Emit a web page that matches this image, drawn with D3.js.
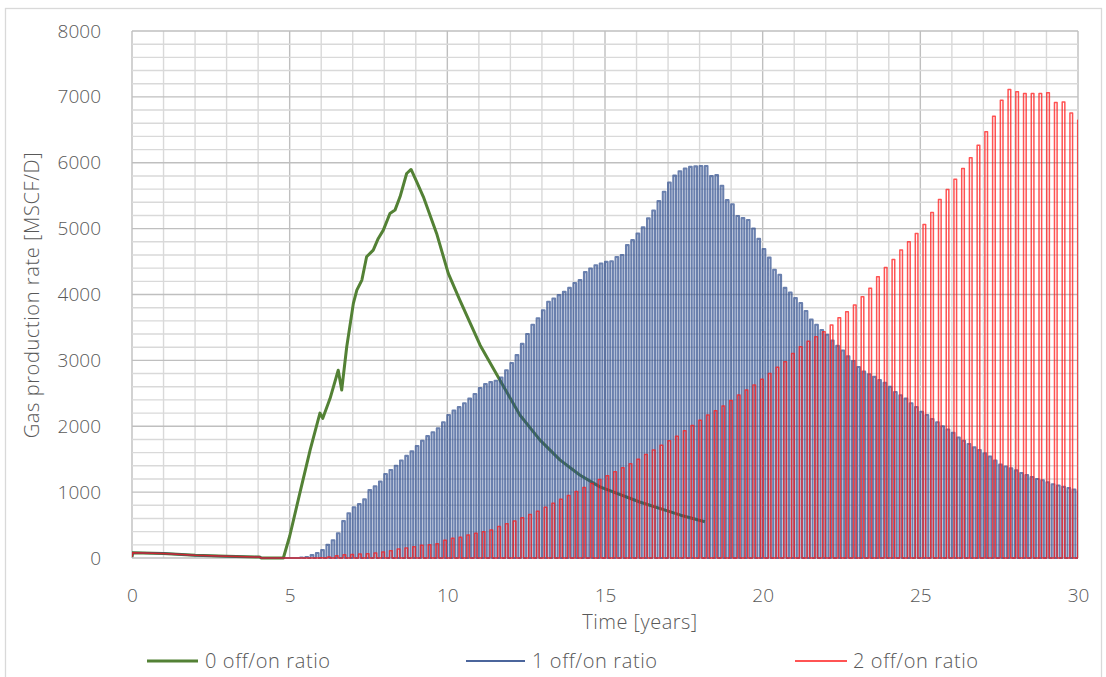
<!DOCTYPE html>
<html><head><meta charset="utf-8">
<script src="https://cdn.jsdelivr.net/npm/d3@7"></script>
<style>
html,body{margin:0;padding:0;background:#fff;}
svg text{font-family:"Open Sans","Noto Sans",sans-serif;font-weight:300;fill:#595959;}
</style></head>
<body>
<script>
// ---------------- DATA ----------------
const xTicks = [0, 5, 10, 15, 20, 25, 30];
const yTicks = [0, 1000, 2000, 3000, 4000, 5000, 6000, 7000, 8000];
const seriesNames = ["0 off/on ratio", "1 off/on ratio", "2 off/on ratio"];

// shared initial (pre-cycling) period, years / MSCF/D
const preT = [0, 0.02, 1.0, 2.0, 3.0, 4.05, 4.1];
const preV = [15, 80, 70, 40, 25, 15, 0];

// 0 off/on ratio (continuous production)
const greenT = [4.8, 5.0, 5.33, 5.65, 5.96, 6.05, 6.28, 6.54, 6.65, 6.81, 7.02, 7.13, 7.29, 7.44, 7.65, 7.81, 7.97, 8.18, 8.34, 8.5, 8.71, 8.85, 9.03, 9.24, 9.66, 10.03, 10.4, 11.04, 11.67, 12.3, 12.94, 13.57, 14.2, 14.84, 16.1, 17.4, 18.17];
const greenV = [0, 330, 1000, 1640, 2200, 2120, 2420, 2850, 2550, 3207, 3865, 4067, 4219, 4572, 4674, 4851, 4977, 5230, 5281, 5483, 5837, 5898, 5711, 5483, 4927, 4320, 3910, 3230, 2700, 2170, 1790, 1490, 1260, 1080, 850, 650, 550];

// 1 off/on ratio: start of first producing month (years), cycle period, on duration, rate per on-month
const blueStart = 32 / 6, bluePeriod = 1 / 6, onMonth = 1 / 12;
const bluePeaks = [5, 15, 45, 75, 120, 200, 270, 375, 560, 680, 770, 820, 890, 1030, 1090, 1160, 1275, 1335, 1400, 1480,
  1550, 1620, 1700, 1780, 1850, 1910, 1970, 2060, 2170, 2240, 2290, 2350, 2420, 2490, 2580, 2640, 2670, 2690, 2740, 2850,
  2960, 3080, 3250, 3400, 3540, 3640, 3760, 3890, 3940, 3990, 4040, 4100, 4175, 4220, 4340, 4395, 4445, 4470, 4495, 4505,
  4570, 4600, 4750, 4825, 4925, 5020, 5155, 5275, 5420, 5560, 5700, 5805, 5870, 5913, 5938, 5945, 5950, 5950, 5797, 5812,
  5650, 5432, 5370, 5192, 5160, 5130, 5003, 4845, 4690, 4560, 4375, 4300, 4100, 4030, 3945, 3870, 3750, 3620, 3540, 3460,
  3390, 3300, 3220, 3150, 3060, 2990, 2900, 2830, 2790, 2750, 2700, 2660, 2600, 2520, 2470, 2420, 2350, 2290, 2220, 2170,
  2110, 2060, 2000, 1950, 1900, 1830, 1780, 1730, 1680, 1640, 1590, 1540, 1480, 1420, 1390, 1360, 1330, 1290, 1260, 1230,
  1200, 1180, 1150, 1120, 1100, 1080, 1060, 1040, 1010];

// 2 off/on ratio
const redStart = 5.96, redPeriod = 0.2452;
const redPeaks = [5, 15, 35, 50, 55, 60, 65, 75, 90, 110, 135, 150, 170, 195, 200, 215, 270, 300, 315, 350,
  375, 400, 425, 480, 520, 560, 610, 660, 710, 770, 830, 890, 950, 1010, 1070, 1130, 1190, 1250, 1310, 1370,
  1430, 1500, 1570, 1640, 1710, 1780, 1850, 1930, 2010, 2090, 2170, 2235, 2306, 2390, 2473, 2549, 2625, 2712, 2802, 2894,
  2979, 3106, 3207, 3290, 3360, 3434, 3536, 3647, 3738, 3839, 3966, 4093, 4269, 4411, 4532, 4674, 4800, 4927, 5063, 5245,
  5443, 5594, 5751, 5913, 6075, 6267, 6469, 6707, 6950, 7112, 7076, 7051, 7051, 7051, 7061, 6915, 6924, 6757, 6646];

// ---------------- CHART ----------------
const W = 1106, H = 677;
const M = {left: 132, right: 1078, top: 31, bottom: 558};
const svg = d3.select("body").append("svg").attr("width", W).attr("height", H);

svg.append("rect").attr("x", 5.5).attr("y", 8.5).attr("width", 1096).attr("height", 700)
  .attr("fill", "#fff").attr("stroke", "#d9d9d9").attr("stroke-width", 1.3);

const x = d3.scaleLinear().domain([0, 30]).range([M.left, M.right]);
const y = d3.scaleLinear().domain([0, 8000]).range([M.bottom, M.top]);

// grid
const g = svg.append("g");
const minorX = d3.range(0, 31, 1), minorY = d3.range(0, 8001, 200);
g.selectAll(".vx").data(minorX).join("line")
  .attr("x1", d => x(d)).attr("x2", d => x(d)).attr("y1", M.top).attr("y2", M.bottom)
  .attr("stroke", d => d % 5 === 0 ? "#bfbfbf" : "#d9d9d9").attr("stroke-width", 1.4);
g.selectAll(".hy").data(minorY).join("line")
  .attr("y1", d => y(d)).attr("y2", d => y(d)).attr("x1", M.left).attr("x2", M.right)
  .attr("stroke", d => d % 1000 === 0 ? "#bfbfbf" : "#d9d9d9").attr("stroke-width", 1.4);

// axes tick labels
const fontFam = '"Open Sans","Noto Sans",sans-serif';
const xAxis = d3.axisBottom(x).tickValues(xTicks).tickSize(0).tickPadding(31).tickFormat(d3.format("d"));
const xa = svg.append("g").attr("transform", `translate(0,${M.bottom})`).call(xAxis);
xa.select(".domain").remove();
xa.selectAll("text").attr("font-size", 19).attr("fill", "#595959")
  .style("font-family", fontFam).style("font-weight", 300);
const yAxis = d3.axisLeft(y).tickValues(yTicks).tickSize(0).tickPadding(31).tickFormat(d3.format("d"));
const ya = svg.append("g").attr("transform", `translate(${M.left},0)`).call(yAxis);
ya.select(".domain").remove();
ya.selectAll("text").attr("font-size", 19).attr("fill", "#595959")
  .style("font-family", fontFam).style("font-weight", 300);

svg.append("text").attr("x", 640).attr("y", 629).attr("text-anchor", "middle")
  .attr("font-size", 20).attr("letter-spacing", 0.5).text("Time [years]");
svg.append("text").attr("transform", "translate(39,295) rotate(-90)").attr("text-anchor", "middle")
  .attr("font-size", 20).attr("letter-spacing", 0.6).text("Gas production rate [MSCF/D]");

// clip
svg.append("clipPath").attr("id", "clip").append("rect")
  .attr("x", M.left).attr("y", M.top - 5).attr("width", M.right - M.left).attr("height", M.bottom - M.top + 10);

const line = d3.line().x(d => x(d[0])).y(d => y(d[1]));

// each cycle: shut-in (0) -> opens at rate p for one month -> shut-in again
function cyclic(start, period, peaks) {
  const pts = preT.map((t, i) => [t, preV[i]]);
  peaks.forEach((p, i) => {
    const t = start + i * period;
    pts.push([t, 0], [t, p], [t + onMonth, p], [t + onMonth, 0]);
  });
  return pts;
}

const greenPts = preT.map((t, i) => [t, preV[i]]).concat(greenT.map((t, i) => [t, greenV[i]]));
const bluePts = cyclic(blueStart, bluePeriod, bluePeaks);
const redPts = cyclic(redStart, redPeriod, redPeaks);

const plot = svg.append("g").attr("clip-path", "url(#clip)");
plot.append("path").datum(greenPts).attr("d", line).attr("fill", "none")
  .attr("stroke", "#538135").attr("stroke-width", 3).attr("stroke-linejoin", "round");
plot.append("path").datum(bluePts).attr("d", line).attr("fill", "none")
  .attr("stroke", "#2b4a8b").attr("stroke-opacity", 0.7).attr("stroke-width", 2.1).attr("stroke-linejoin", "round");
plot.append("path").datum(redPts).attr("d", line).attr("fill", "none")
  .attr("stroke", "#ff1a1a").attr("stroke-opacity", 0.75).attr("stroke-width", 1.5).attr("stroke-linejoin", "round");

// legend
const legend = [
  {name: seriesNames[0], color: "#538135", w: 3, op: 1, x1: 147, x2: 198, tx: 205},
  {name: seriesNames[1], color: "#2b4a8b", w: 1.8, op: 0.85, x1: 466, x2: 525, tx: 532},
  {name: seriesNames[2], color: "#ff1a1a", w: 1.8, op: 0.75, x1: 795, x2: 847, tx: 853}
];
const lg = svg.append("g");
legend.forEach(l => {
  lg.append("line").attr("x1", l.x1).attr("x2", l.x2).attr("y1", 661).attr("y2", 661)
    .attr("stroke", l.color).attr("stroke-width", l.w).attr("stroke-opacity", l.op);
  lg.append("text").attr("x", l.tx).attr("y", 668).attr("font-size", 20).attr("letter-spacing", 0.6).text(l.name);
});
</script>
</body></html>
